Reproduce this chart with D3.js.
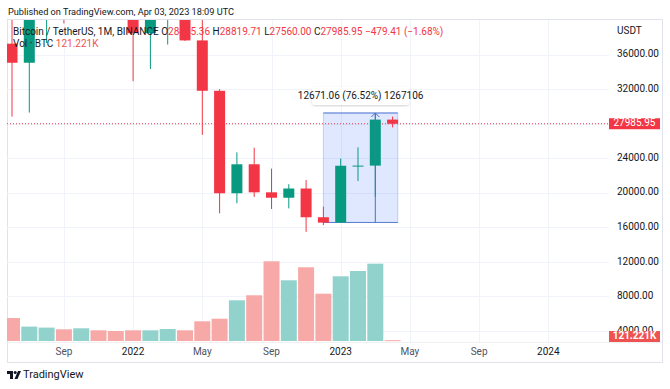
<!DOCTYPE html>
<html>
<head>
<meta charset="utf-8">
<script src="https://cdn.jsdelivr.net/npm/d3@7"></script>
<style>
  body { margin: 0; background: #fff; }
  text { font-family: Roboto, "Noto Sans", sans-serif; }
</style>
</head>
<body>
<div id="chart"></div>
<script>
// monthly BTCUSDT candles, Jun 2021 .. Apr 2023
var months = ["2021-06","2021-07","2021-08","2021-09","2021-10","2021-11","2021-12",
    "2022-01","2022-02","2022-03","2022-04","2022-05","2022-06","2022-07","2022-08",
    "2022-09","2022-10","2022-11","2022-12","2023-01","2023-02","2023-03","2023-04"]
var openP  = [37254, 35045, 41461, 47100, 43820, 61300, 56950, 46216, 38466, 43160, 45510, 37630,
    31801, 19942, 23296, 20050, 19423, 20490, 17165, 16541, 23125, 23141, 28465.36]
var highP  = [41330, 42448, 50500, 52920, 67000, 69000, 59053, 47990, 45821, 48189, 47444, 40023,
    31986, 24668, 25211, 22799, 20988, 21480, 18387, 23960, 25250, 29184, 28819.71]
var lowP   = [28805, 29278, 37332, 39600, 43283, 53256, 42000, 32917, 34322, 37155, 37578, 26700,
    17622, 18781, 19520, 18125, 18190, 15476, 16256, 16499, 21351, 19549, 27560]
var closeP = [35045, 41461, 47100, 43824, 61299, 56950, 46216, 38466, 43160, 45510, 37630, 31801,
    19942, 23293, 20050, 19423, 20490, 17164, 16542, 23125, 23141, 28465.36, 27985.95]
// volume in thousand BTC
var volume = [3286, 2057, 1914, 1671, 1814, 1529, 1429, 1529, 1529, 1714, 1529, 2814,
    3186, 5814, 6529, 11386, 8671, 10529, 6757, 9243, 10000, 11043, 121.221]

var priceTicks = [4000, 8000, 12000, 16000, 20000, 24000, 28000, 32000, 36000]
var timeTickIndex = [3, 7, 11, 15, 19, 23, 27, 31]
var timeTickLabels = ["Sep", "2022", "May", "Sep", "2023", "May", "Sep", "2024"]

// price range measurement (bar index from/to, price low/high)
var measureFrom = 18, measureTo = 22.3, measureArrow = 21
var measureLow = 16559, measureHigh = 29230.06

var lastClose = 27985.95
var lastVolume = "121.221K"

var width = 670, height = 389
var frame = {left: 7, top: 19, right: 662, bottom: 362}
var plotRight = 609, paneBottom = 342

var red = "#f23645", green = "#089981"
var volRed = "#f7a9a7", volGreen = "#92d2cc"

var svg = d3.select("#chart").append("svg")
    .attr("width", width)
    .attr("height", height)

var x = d3.scaleLinear().domain([0, 31]).range([12, 12 + 31 * 17.3])
var y = d3.scaleLinear().domain([4000, 36000]).range([331, 54.5])
var yVol = d3.scaleLinear().domain([0, 16000]).range([341, 229])

svg.append("defs").append("clipPath").attr("id", "pane")
    .append("rect")
    .attr("x", frame.left).attr("y", frame.top + 1)
    .attr("width", plotRight - frame.left).attr("height", paneBottom - frame.top - 1)

// header
svg.append("text")
    .attr("x", 8).attr("y", 15)
    .attr("font-size", "9.2px").attr("fill", "#131722")
    .text("Published on TradingView.com, Apr 03, 2023 18:09 UTC")

// frame
svg.append("rect")
    .attr("x", frame.left + 0.5).attr("y", frame.top + 0.5)
    .attr("width", frame.right - frame.left).attr("height", frame.bottom - frame.top)
    .attr("fill", "none").attr("stroke", "#e0e3eb")

svg.append("line")
    .attr("x1", frame.left).attr("x2", frame.right)
    .attr("y1", paneBottom + 0.5).attr("y2", paneBottom + 0.5)
    .attr("stroke", "#eef0f4")

var grid = svg.append("g").attr("clip-path", "url(#pane)")

grid.selectAll(".hgrid")
    .data(priceTicks)
    .enter().append("line")
    .attr("x1", frame.left).attr("x2", plotRight)
    .attr("y1", d => Math.round(y(d)) + 0.5)
    .attr("y2", d => Math.round(y(d)) + 0.5)
    .attr("stroke", "#f0f3fa")

svg.selectAll(".vgrid")
    .data(timeTickIndex)
    .enter().append("line")
    .attr("x1", d => Math.round(x(d)) + 0.5)
    .attr("x2", d => Math.round(x(d)) + 0.5)
    .attr("y1", frame.top + 1).attr("y2", paneBottom)
    .attr("stroke", "#f0f3fa")

var pane = svg.append("g").attr("clip-path", "url(#pane)")

// volume
pane.selectAll(".vol")
    .data(volume)
    .enter().append("rect")
    .attr("x", (d, i) => x(i) - 8)
    .attr("width", 16)
    .attr("y", d => yVol(d))
    .attr("height", d => Math.max(1, yVol(0) - yVol(d)))
    .attr("fill", (d, i) => closeP[i] >= openP[i] ? volGreen : volRed)

// measurement box
pane.append("rect")
    .attr("x", x(measureFrom)).attr("width", x(measureTo) - x(measureFrom))
    .attr("y", y(measureHigh)).attr("height", y(measureLow) - y(measureHigh))
    .attr("fill", "rgba(41,98,255,0.15)")
    .attr("stroke", "rgba(41,98,255,0.25)")

pane.selectAll(".mline")
    .data([measureHigh, measureLow])
    .enter().append("line")
    .attr("x1", x(measureFrom)).attr("x2", x(measureTo))
    .attr("y1", d => y(d)).attr("y2", d => y(d))
    .attr("stroke", "#5b7fd1").attr("stroke-width", 1)

// last price dotted line
pane.append("line")
    .attr("x1", frame.left).attr("x2", plotRight)
    .attr("y1", y(lastClose)).attr("y2", y(lastClose))
    .attr("stroke", red).attr("stroke-dasharray", "1,2")

// candles
var candle = pane.selectAll(".candle")
    .data(months)
    .enter().append("g")
    .attr("fill", (d, i) => closeP[i] >= openP[i] ? green : red)
    .attr("stroke", (d, i) => closeP[i] >= openP[i] ? green : red)

candle.append("line")
    .attr("x1", (d, i) => x(i)).attr("x2", (d, i) => x(i))
    .attr("y1", (d, i) => y(highP[i])).attr("y2", (d, i) => y(lowP[i]))
    .attr("stroke-width", 1)

candle.append("rect")
    .attr("stroke", "none")
    .attr("x", (d, i) => x(i) - 5.5).attr("width", 11)
    .attr("y", (d, i) => y(Math.max(openP[i], closeP[i])))
    .attr("height", (d, i) => Math.max(1, Math.abs(y(openP[i]) - y(closeP[i]))))

// arrow of measurement
pane.append("line")
    .attr("x1", x(measureArrow)).attr("x2", x(measureArrow))
    .attr("y1", y(measureLow)).attr("y2", y(measureHigh))
    .attr("stroke", "#4a6fc4")
pane.append("path")
    .attr("d", "M" + (x(measureArrow) - 4) + "," + (y(measureHigh) + 4) + "L" + x(measureArrow) + "," + y(measureHigh) +
        "L" + (x(measureArrow) + 4) + "," + (y(measureHigh) + 4))
    .attr("fill", "none").attr("stroke", "#4a6fc4")

// measurement label
var mx = (x(measureFrom) + x(measureTo)) / 2
var shadow = svg.append("defs").append("filter").attr("id", "shadow")
shadow.append("feDropShadow").attr("dx", 0).attr("dy", 1).attr("stdDeviation", 1.2)
    .attr("flood-color", "#000").attr("flood-opacity", 0.18)
svg.append("rect")
    .attr("x", mx - 48.5).attr("y", y(measureHigh) - 26)
    .attr("width", 97).attr("height", 18).attr("rx", 3)
    .attr("fill", "#fff").attr("filter", "url(#shadow)")
svg.append("text")
    .attr("x", mx).attr("y", y(measureHigh) - 17)
    .attr("text-anchor", "middle").attr("dominant-baseline", "middle")
    .attr("font-size", "10px").attr("fill", "#131722")
    .text((measureHigh - measureLow).toFixed(2) + " (" + ((measureHigh - measureLow) / measureLow * 100).toFixed(2) + "%) 1267106")

// legend
var leg = svg.append("text").attr("x", 13).attr("y", 35).attr("font-size", "10px").attr("fill", "#131722")
leg.append("tspan").text("Bitcoin / TetherUS, 1M, BINANCE  ")
var ohlc = [["O", openP], ["H", highP], ["L", lowP], ["C", closeP]]
ohlc.forEach(p => {
    leg.append("tspan").text(p[0])
    leg.append("tspan").attr("fill", red).text(p[1][months.length - 1].toFixed(2) + "  ")
})
var chg = closeP[months.length - 1] - closeP[months.length - 2]
leg.append("tspan").attr("fill", red)
    .text("\u2212" + Math.abs(chg).toFixed(2) + " (\u2212" + Math.abs(chg / closeP[months.length - 2] * 100).toFixed(2) + "%)")

var leg2 = svg.append("text").attr("x", 13).attr("y", 47).attr("font-size", "10px").attr("fill", "#131722")
leg2.append("tspan").text("Vol \u00b7 BTC  ")
leg2.append("tspan").attr("fill", "#ef5350").text(lastVolume)

// price axis
svg.append("text")
    .attr("x", 617).attr("y", 31)
    .attr("dominant-baseline", "middle")
    .attr("font-size", "10px").attr("fill", "#131722")
    .text("USDT")

// ticks covered by the last price label are hidden
svg.selectAll(".ptick")
    .data(priceTicks.filter(d => Math.abs(y(d) - y(lastClose)) > 8))
    .enter().append("text")
    .attr("x", 617).attr("y", d => y(d))
    .attr("dominant-baseline", "middle")
    .attr("font-size", "10px").attr("fill", "#131722")
    .text(d => d3.format(".2f")(d))

svg.append("rect")
    .attr("x", plotRight).attr("y", y(lastClose) - 5.5)
    .attr("width", 51).attr("height", 11)
    .attr("fill", red)
svg.append("text")
    .attr("x", plotRight + 25.5).attr("y", y(lastClose))
    .attr("text-anchor", "middle").attr("dominant-baseline", "middle")
    .attr("font-size", "10px").attr("fill", "#fff")
    .text(lastClose.toFixed(2))

svg.append("rect")
    .attr("x", plotRight).attr("y", 331)
    .attr("width", 51).attr("height", 11)
    .attr("fill", "#ef5350")
svg.append("text")
    .attr("x", plotRight + 25.5).attr("y", 336.5)
    .attr("text-anchor", "middle").attr("dominant-baseline", "middle")
    .attr("font-size", "10px").attr("font-weight", "bold").attr("fill", "#fff")
    .text(lastVolume)

// time axis
svg.selectAll(".ttick")
    .data(timeTickIndex)
    .enter().append("text")
    .attr("x", d => x(d)).attr("y", 352)
    .attr("text-anchor", "middle").attr("dominant-baseline", "middle")
    .attr("font-size", "10px")
    .attr("fill", (d, i) => /^\d+$/.test(timeTickLabels[i]) ? "#131722" : "#50535e")
    .text((d, i) => timeTickLabels[i])

// TradingView logo
var logo = svg.append("g").attr("fill", "#131722").attr("transform", "translate(7,371)")
logo.append("path").attr("d", "M0,0H6V8H3V3H0Z")
logo.append("circle").attr("cx", 8.2).attr("cy", 1.5).attr("r", 1.5)
logo.append("path").attr("d", "M11,0H14L10.5,8H7.5Z")
svg.append("text")
    .attr("x", 23).attr("y", 375)
    .attr("dominant-baseline", "middle")
    .attr("font-size", "11px").attr("fill", "#131722")
    .text("TradingView")
</script>
</body>
</html>
